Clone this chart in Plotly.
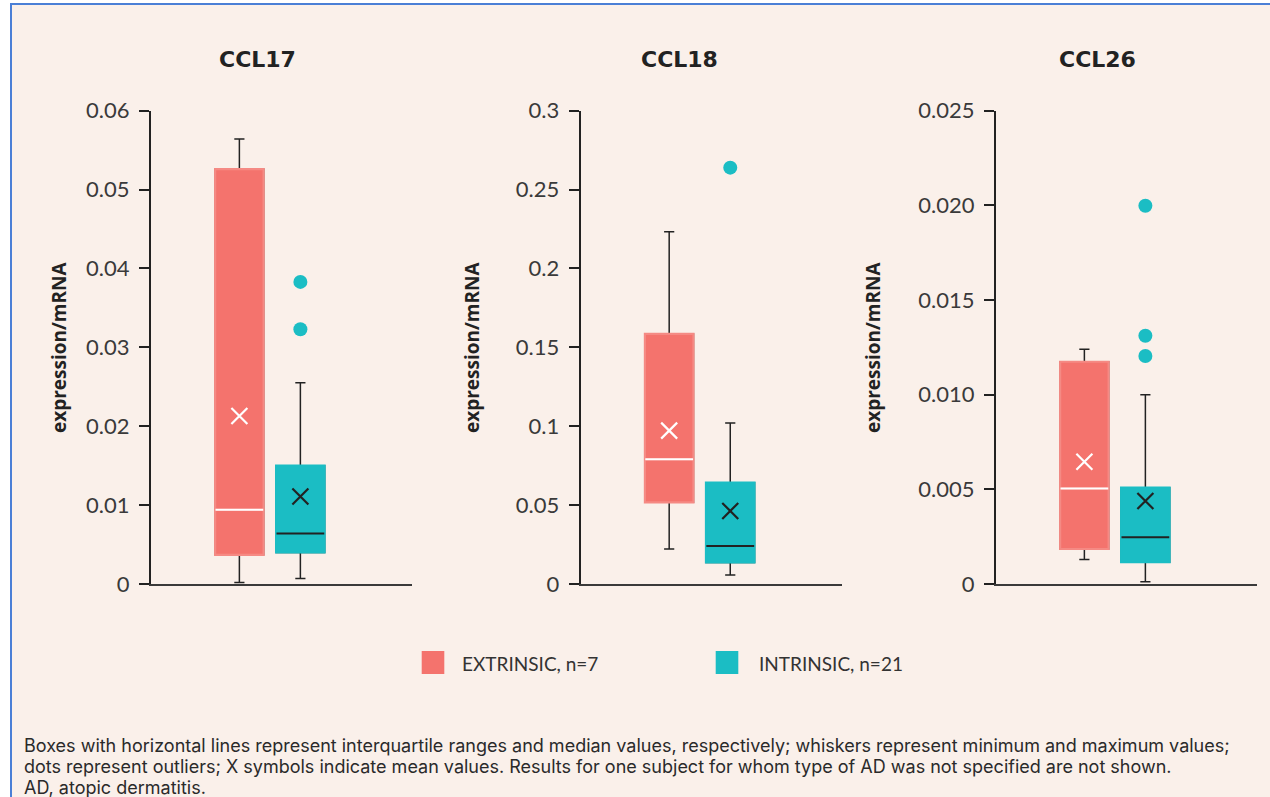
import plotly.graph_objects as go

# ---------------- data ----------------
panels = ["CCL17", "CCL18", "CCL26"]
groups = ["EXTRINSIC, n=7", "INTRINSIC, n=21"]

# extrinsic summary statistics per panel
ext_min = [0.0002, 0.0222, 0.0013]
ext_q1 = [0.0037, 0.0518, 0.00185]
ext_median = [0.0094, 0.0790, 0.00505]
ext_q3 = [0.0526, 0.1585, 0.01174]
ext_max = [0.0564, 0.2233, 0.0124]
ext_mean = [0.0213, 0.0972, 0.00646]

# intrinsic summary statistics per panel
int_min = [0.0007, 0.0057, 0.00012]
int_q1 = [0.0040, 0.0137, 0.00115]
int_median = [0.0064, 0.0241, 0.00247]
int_q3 = [0.0150, 0.0642, 0.00509]
int_max = [0.0255, 0.1020, 0.0100]
int_mean = [0.0111, 0.0463, 0.00438]
int_outliers = [[0.0383, 0.0323], [0.2639], [0.01998, 0.01311, 0.01204]]

# y-axis ticks per panel
y_ranges = [[0, 0.06], [0, 0.3], [0, 0.025]]
tick_vals = [
    [0, 0.01, 0.02, 0.03, 0.04, 0.05, 0.06],
    [0, 0.05, 0.1, 0.15, 0.2, 0.25, 0.3],
    [0, 0.005, 0.010, 0.015, 0.020, 0.025],
]
tick_text = [
    ["0", "0.01", "0.02", "0.03", "0.04", "0.05", "0.06"],
    ["0", "0.05", "0.1", "0.15", "0.2", "0.25", "0.3"],
    ["0", "0.005", "0.010", "0.015", "0.020", "0.025"],
]
y_title = "expression/mRNA"
footnote = [
    "Boxes with horizontal lines represent interquartile ranges and median values, respectively; whiskers represent minimum and maximum values;",
    "dots represent outliers; X symbols indicate mean values. Results for one subject for whom type of AD was not specified are not shown.",
    "AD, atopic dermatitis.",
]

# ---------------- styling ----------------
W, H = 1270, 797
BG = "#faf0ea"
BLUE = "#4a7fd6"
C_EXT = "#f4736d"
C_EXT_EDGE = "#f58a84"
C_INT = "#1bbdc4"
DARK = "#222222"
TICK_FONT = dict(family="Lato", size=22, color="#3a3a3a", weight=400)


def px(x):
    return x / W


def py(y):
    return 1 - y / H


x_domains = [[px(151), px(412)], [px(580.7), px(842)], [px(996), px(1257)]]
y_domain = [py(584), py(110.7)]
x_range = [-0.449, 3.83]
POS = [1, 2]
BW = 0.795

fig = go.Figure()

for i in range(3):
    xa = "x" if i == 0 else f"x{i+1}"
    ya = "y" if i == 0 else f"y{i+1}"
    stats = [
        (ext_min[i], ext_q1[i], ext_median[i], ext_q3[i], ext_max[i], ext_mean[i], C_EXT, C_EXT_EDGE, "white", "white"),
        (int_min[i], int_q1[i], int_median[i], int_q3[i], int_max[i], int_mean[i], C_INT, C_INT, DARK, DARK),
    ]
    for g, (mn, q1, md, q3, mx, mean, fill, edge, medc, meanc) in enumerate(stats):
        # whiskers (full box, black)
        fig.add_trace(go.Box(
            x=[POS[g]], q1=[q1], median=[md], q3=[q3], lowerfence=[mn], upperfence=[mx],
            width=BW, whiskerwidth=0.21, line=dict(color=DARK, width=1.5),
            fillcolor=fill, xaxis=xa, yaxis=ya, showlegend=False, hoverinfo="skip",
        ))
        # coloured box on top (covers black outline)
        fig.add_trace(go.Box(
            x=[POS[g]], q1=[q1], median=[md], q3=[q3], lowerfence=[q1], upperfence=[q3],
            width=BW, whiskerwidth=0, line=dict(color=edge, width=2.2),
            fillcolor=fill, xaxis=xa, yaxis=ya, showlegend=False, hoverinfo="skip",
        ))
        # median line
        fig.add_trace(go.Box(
            x=[POS[g]], q1=[md], median=[md], q3=[md], lowerfence=[md], upperfence=[md],
            width=BW * 0.985, whiskerwidth=0, line=dict(color=medc, width=2),
            fillcolor="rgba(0,0,0,0)", xaxis=xa, yaxis=ya, showlegend=False, hoverinfo="skip",
        ))
        # mean marker
        fig.add_trace(go.Scatter(
            x=[POS[g]], y=[mean], mode="markers",
            marker=dict(symbol="x-thin", size=16, line=dict(color=meanc, width=2.2)),
            xaxis=xa, yaxis=ya, showlegend=False, hoverinfo="skip",
        ))
    # outliers
    fig.add_trace(go.Scatter(
        x=[POS[1]] * len(int_outliers[i]), y=int_outliers[i], mode="markers",
        marker=dict(symbol="circle", size=14, color=C_INT, line=dict(width=0)),
        xaxis=xa, yaxis=ya, showlegend=False, hoverinfo="skip",
    ))

    xkey = "xaxis" if i == 0 else f"xaxis{i+1}"
    ykey = "yaxis" if i == 0 else f"yaxis{i+1}"
    fig.layout[xkey] = dict(
        domain=x_domains[i], range=x_range, anchor=ya, showgrid=False, zeroline=False,
        showline=True, linecolor="#3a3a3a", linewidth=2, showticklabels=False, ticks="",
        fixedrange=True, automargin=False,
    )
    fig.layout[ykey] = dict(
        domain=y_domain, range=y_ranges[i], anchor=xa, showgrid=False, zeroline=False,
        showline=True, linecolor=DARK, linewidth=2, ticks="outside", ticklen=10,
        tickwidth=2, tickcolor=DARK, tickvals=tick_vals[i], ticktext=tick_text[i],
        tickfont=TICK_FONT, ticklabelstandoff=5, fixedrange=True, automargin=False,
    )

annotations = []
title_x = [257, 679.5, 1097]
for i, name in enumerate(panels):
    annotations.append(dict(
        text=f"<b>{name}</b>", x=px(title_x[i]), y=py(59.5), xref="paper", yref="paper",
        xanchor="center", yanchor="middle", showarrow=False,
        font=dict(family="DejaVu Sans", size=22, color=DARK),
    ))
ytitle_x = [59, 472, 873]
for i in range(3):
    annotations.append(dict(
        text=f"<b>{y_title}</b>", x=px(ytitle_x[i]), y=py(347), xref="paper", yref="paper",
        xanchor="center", yanchor="middle", showarrow=False, textangle=-90,
        font=dict(family="Open Sans", size=19, color=DARK),
    ))
# legend
leg_sq = [421.7, 715.7]
leg_tx = [460, 757]
leg_col = [C_EXT, C_INT]
shapes = [
    dict(type="rect", xref="paper", yref="paper", x0=px(11), x1=1.02, y0=-0.02, y1=py(4),
         fillcolor=BG, line=dict(color=BLUE, width=2), layer="below"),
]
for k in range(2):
    shapes.append(dict(type="rect", xref="paper", yref="paper", x0=px(leg_sq[k]), x1=px(leg_sq[k] + 22.6),
                       y0=py(674), y1=py(651), fillcolor=leg_col[k], line=dict(width=0)))
    annotations.append(dict(
        text=groups[k], x=px(leg_tx[k]), y=py(663), xref="paper", yref="paper",
        xanchor="left", yanchor="middle", showarrow=False,
        font=dict(family="Lato", size=19, color="#333333"),
    ))
foot_y = [745.5, 766.5, 787]
for k, line in enumerate(footnote):
    annotations.append(dict(
        text=line, x=px(22), y=py(foot_y[k]), xref="paper", yref="paper",
        xanchor="left", yanchor="middle", showarrow=False,
        font=dict(family="Inter", size=18, color="#2a2a2a"),
    ))

fig.update_layout(
    width=W, height=H, margin=dict(l=0, r=0, t=0, b=0, pad=0, autoexpand=False),
    paper_bgcolor="white", plot_bgcolor="rgba(0,0,0,0)",
    boxmode="overlay", showlegend=False, hovermode=False,
    annotations=annotations, shapes=shapes,
)

fig.write_html(
    "out.html",
    config={"displayModeBar": False},
    post_script="document.body.style.margin='0';document.body.style.overflow='hidden';",
)
